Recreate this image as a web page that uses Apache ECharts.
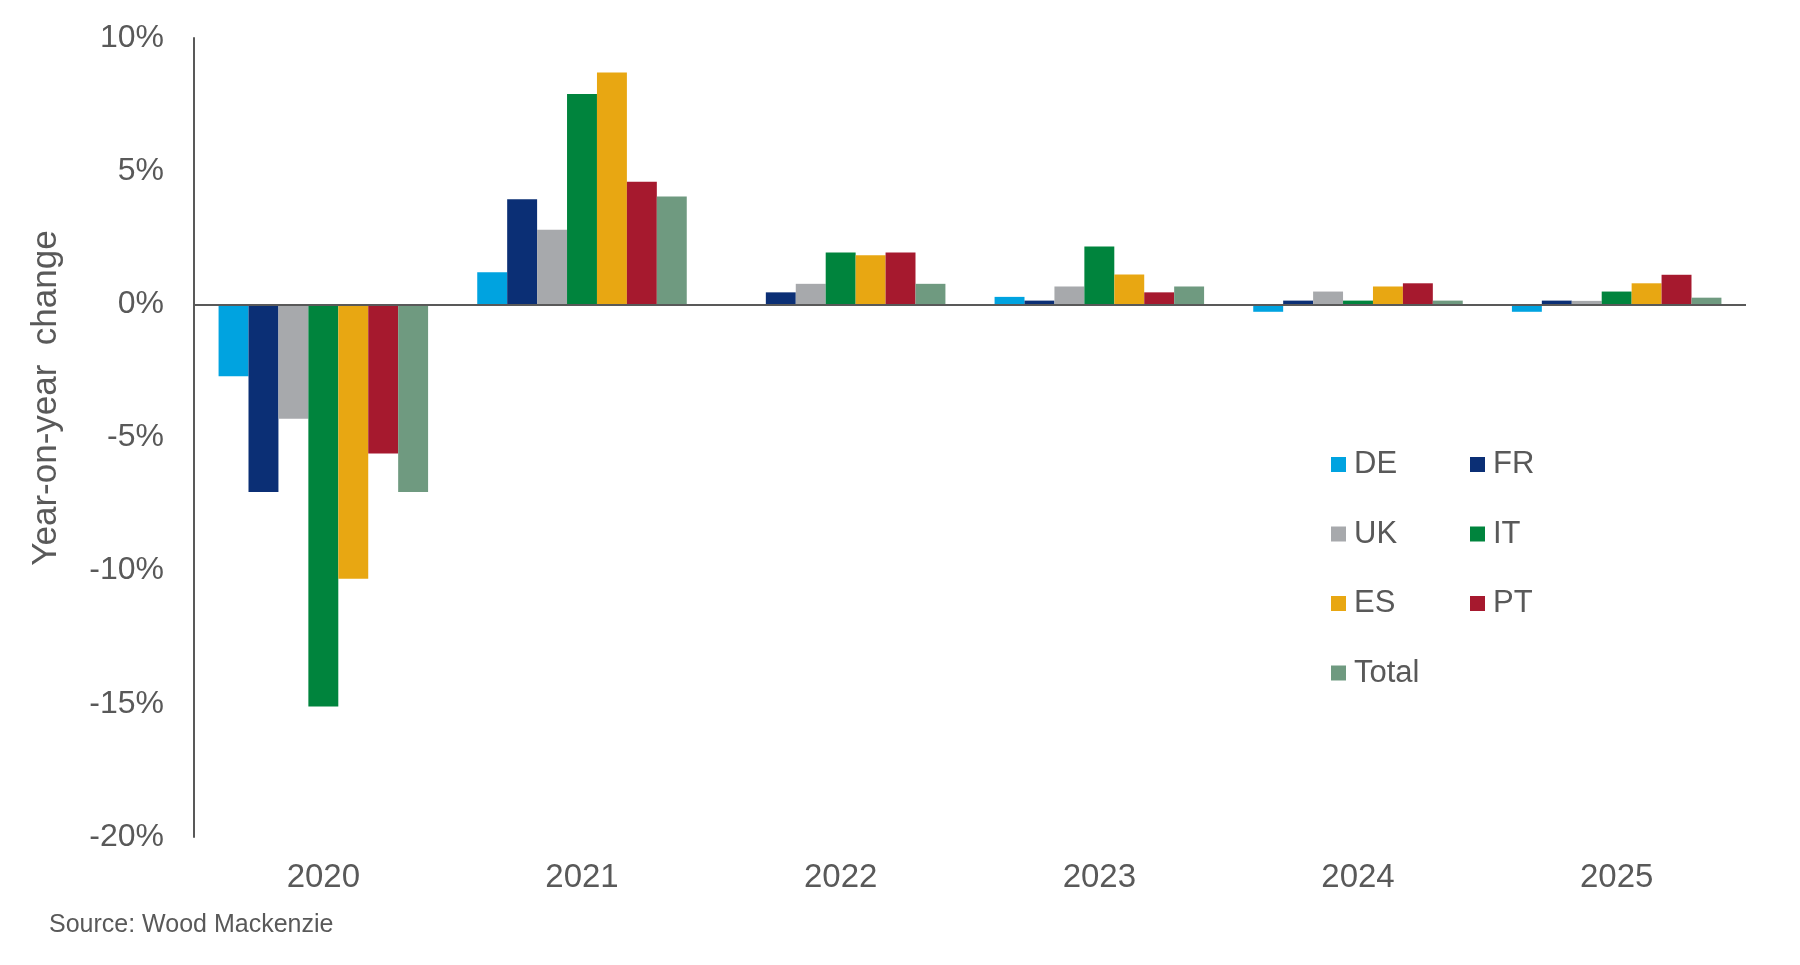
<!DOCTYPE html>
<html>
<head>
<meta charset="utf-8">
<script src="https://cdn.jsdelivr.net/npm/echarts@6/dist/echarts.min.js"></script>
<style>html,body{margin:0;padding:0;background:#fff;}#c{width:1800px;height:965px;}</style>
</head>
<body>
<div id="c"></div>
<script>
const categories = ['2020', '2021', '2022', '2023', '2024', '2025'];
const DE = [-2.7, 1.2, 0, 0.28, -0.28, -0.28];
const FR = [-7.05, 3.95, 0.45, 0.14, 0.14, 0.14];
const UK = [-4.3, 2.8, 0.77, 0.67, 0.48, 0.13];
const IT = [-15.1, 7.9, 1.95, 2.17, 0.14, 0.48];
const ES = [-10.3, 8.7, 1.84, 1.12, 0.67, 0.79];
const PT = [-5.6, 4.6, 1.95, 0.45, 0.79, 1.11];
const Total = [-7.05, 4.05, 0.77, 0.67, 0.14, 0.25];
const yTicks = [-20, -15, -10, -5, 0, 5, 10];

const seriesDefs = [
  ['DE', DE, '#00A3E0'],
  ['FR', FR, '#0B2F75'],
  ['UK', UK, '#A7A9AC'],
  ['IT', IT, '#00843D'],
  ['ES', ES, '#E8A712'],
  ['PT', PT, '#A6192E'],
  ['Total', Total, '#6F9A80']
];

const textColor = '#595959';
const font = 'Liberation Sans, Arial, sans-serif';

const series = seriesDefs.map(function (d, i) {
  const s = {
    name: d[0], type: 'bar', data: d[1],
    itemStyle: { color: d[2] },
    barGap: '0%', barCategoryGap: '19%'
  };
  if (i === 0) {
    s.markLine = {
      silent: true, symbol: 'none', label: { show: false },
      lineStyle: { color: '#595959', width: 2, type: 'solid' },
      data: [{ yAxis: 0 }],
      animation: false
    };
  }
  return s;
});

const legendText = { color: textColor, fontSize: 31, fontFamily: font, lineHeight: 30, padding: [0, 0, 0, 3] };

const chart = echarts.init(document.getElementById('c'));
chart.setOption({
  animation: false,
  backgroundColor: '#fff',
  grid: { left: 194, right: 54, top: 38, bottom: 128, containLabel: false },
  xAxis: {
    type: 'category', data: categories,
    axisLine: { show: false, onZero: false },
    axisTick: { show: false },
    axisLabel: { color: textColor, fontSize: 33, fontFamily: font, margin: 24 },
    splitLine: { show: false }
  },
  yAxis: {
    type: 'value', min: yTicks[0], max: yTicks[yTicks.length - 1], interval: 5,
    axisLine: { show: true, lineStyle: { color: '#595959', width: 2 } },
    axisTick: { show: false },
    splitLine: { show: false },
    axisLabel: { color: textColor, fontSize: 32, fontFamily: font, margin: 30,
      formatter: function (v) { return v + '%'; } }
  },
  legend: [
    {
      data: ['DE', 'UK', 'ES', 'Total'], orient: 'vertical',
      left: 1326, top: 444, itemWidth: 15, itemHeight: 15, itemGap: 38.5,
      icon: 'rect', textStyle: legendText
    },
    {
      data: ['FR', 'IT', 'PT'], orient: 'vertical',
      left: 1465, top: 444, itemWidth: 15, itemHeight: 15, itemGap: 38.5,
      icon: 'rect', textStyle: legendText
    }
  ],
  graphic: [
    {
      type: 'text', x: 46, y: 398, rotation: Math.PI / 2,
      style: { text: 'Year-on-year  change', fill: textColor, fontSize: 35, fontFamily: font,
        textAlign: 'center', textVerticalAlign: 'middle' }
    },
    {
      type: 'text', left: 49, top: 913,
      style: { text: 'Source: Wood Mackenzie', fill: textColor, fontSize: 25, fontFamily: font }
    }
  ],
  series: series
});
</script>
</body>
</html>
